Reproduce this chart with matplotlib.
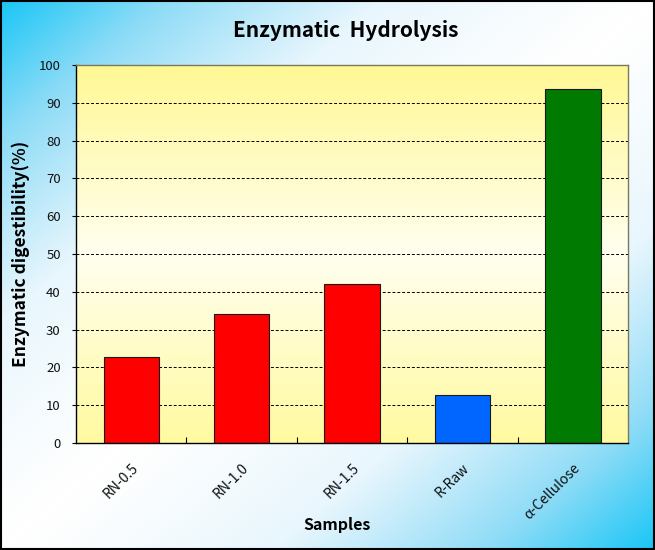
import numpy as np
import matplotlib
matplotlib.use("Agg")
import matplotlib.pyplot as plt
from matplotlib.colors import LinearSegmentedColormap

samples = ["RN-0.5", "RN-1.0", "RN-1.5", "R-Raw", "α-Cellulose"]
digestibility = [22.7, 34.0, 42.0, 12.7, 93.5]
bar_colors = ["#ff0000", "#ff0000", "#ff0000", "#0066ff", "#007a00"]
yticks = list(range(0, 101, 10))

plt.rcParams["font.family"] = ["Noto Sans CJK KR", "DejaVu Sans"]

fig = plt.figure(figsize=(6.55, 5.5), dpi=100)

# ── figure background: diagonal cyan-white-cyan gradient ─────────────────────
bg = fig.add_axes([0, 0, 1, 1], zorder=-10)
gx, gy = np.meshgrid(np.linspace(0, 1, 300), np.linspace(0, 1, 300))
s = np.abs((gx + gy) / 2 - 0.5) * 2
cmap_bg = LinearSegmentedColormap.from_list(
    "bg", [(0, "#ffffff"), (0.35, "#e8f6fd"), (0.7, "#8fdcf7"), (1, "#19c6f6")])
bg.imshow(s ** 1.2, cmap=cmap_bg, aspect="auto", extent=[0, 1, 1, 0], vmin=0, vmax=1)
bg.set_axis_off()
fig.patches.append(plt.Rectangle((0.002, 0.002), 0.996, 0.996, transform=fig.transFigure,
                                 fill=False, edgecolor="black", linewidth=1.5))

# ── main axes ────────────────────────────────────────────────────────────────
ax = fig.add_axes([0.116, 0.1945, 0.843, 0.6875])
ax.set_xlim(-0.5, len(samples) - 0.5)
ax.set_ylim(0, 100)

# plot area: vertical yellow gradient
yy = np.linspace(0, 1, 200).reshape(-1, 1)
cmap_ax = LinearSegmentedColormap.from_list(
    "ax", [(0, "#fffaa0"), (0.5, "#fffff0"), (1, "#fff894")])
ax.imshow(yy, cmap=cmap_ax, aspect="auto", extent=[-0.5, len(samples) - 0.5, 0, 100],
          origin="lower", zorder=0)

for v in yticks[1:-1]:
    ax.axhline(v, color="black", linestyle=(0, (3, 2)), linewidth=0.7, zorder=1)

x = np.arange(len(samples))
ax.bar(x, digestibility, width=0.5, color=bar_colors, edgecolor="#1a1a1a",
       linewidth=0.8, zorder=2)

ax.set_yticks(yticks)
ax.set_yticklabels([str(v) for v in yticks], fontsize=9.5, color="#111111")
ax.tick_params(axis="y", direction="out", length=3, width=0.8, pad=8)

ax.set_xticks(x)
ax.set_xticklabels(samples, rotation=45, ha="right", rotation_mode="anchor",
                   fontsize=10, color="#111111")
ax.tick_params(axis="x", length=0, pad=13)
ax.set_xticks(np.arange(0.5, len(samples) - 0.5, 1), minor=True)
ax.tick_params(axis="x", which="minor", direction="in", length=4, width=0.8)

for side, spine in ax.spines.items():
    spine.set_edgecolor("#7a7a5a")
    spine.set_linewidth(1.0)
ax.spines["bottom"].set_edgecolor("black")
ax.spines["left"].set_edgecolor("black")

ax.set_ylabel("Enzymatic digestibility(%)", fontsize=12.5, fontweight="bold", labelpad=6)
fig.text(0.515, 0.045, "Samples", ha="center", va="center", fontsize=11.5, fontweight="bold")
fig.text(0.528, 0.945, "Enzymatic  Hydrolysis", ha="center", va="center",
         fontsize=15, fontweight="bold")

fig.savefig("out.png", dpi=100)
